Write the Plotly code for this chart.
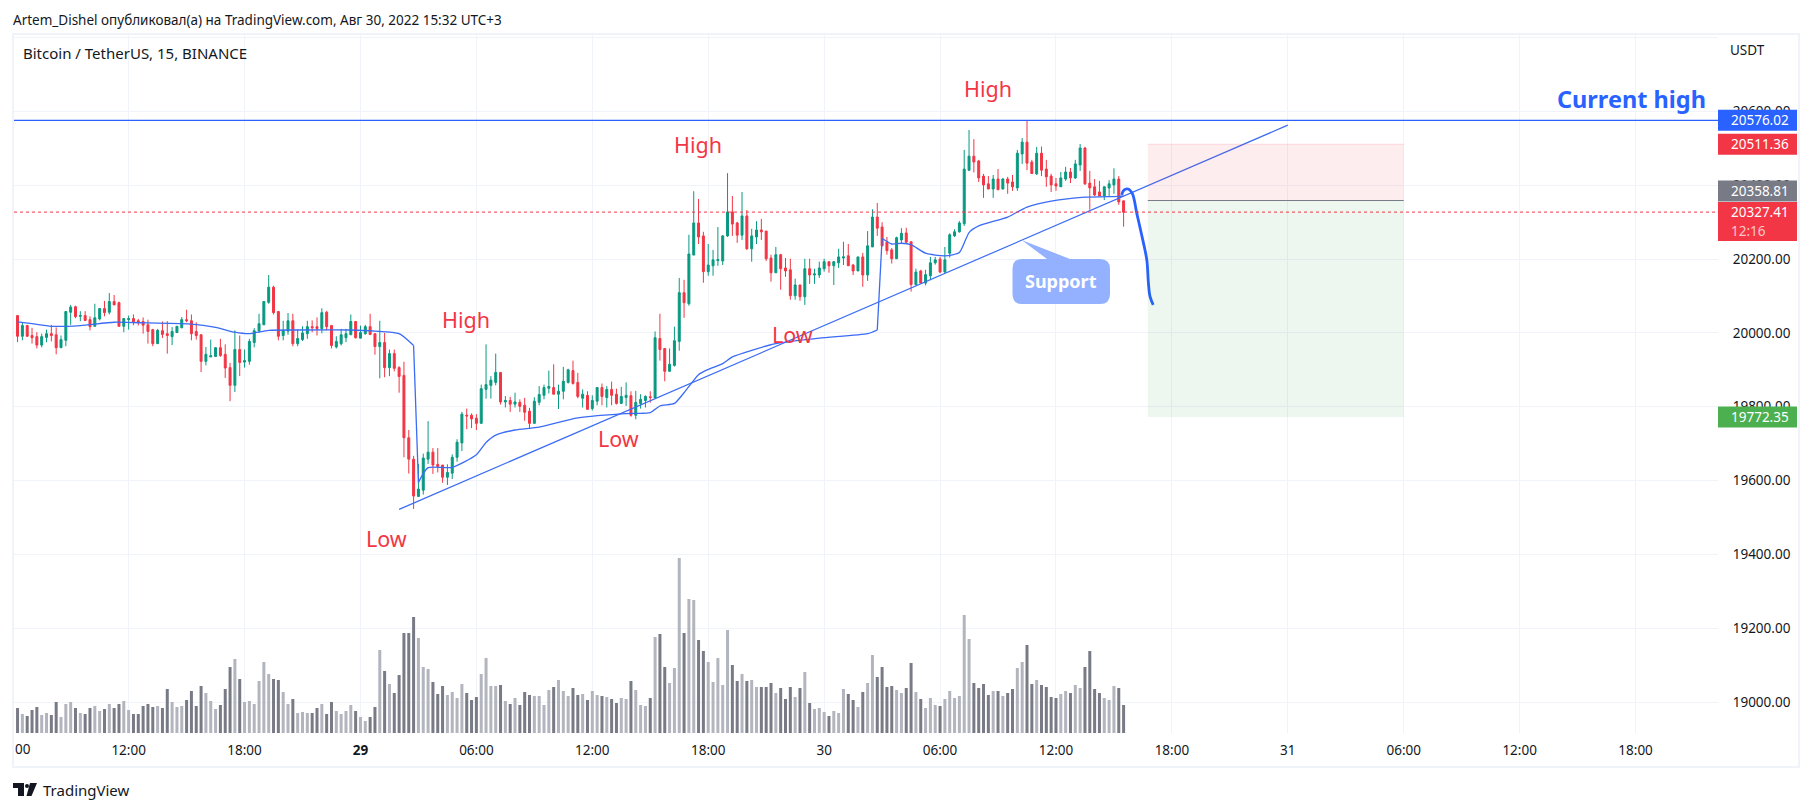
import pandas as pd
import plotly.graph_objects as go

FONT = "Noto Sans"
INK = "#131722"
GRID = "rgb(240,243,250)"
BLUE = "#2962ff"
RED = "#f23645"
GREEN = "#089981"

opens = [
20047,19991,20020,19993,19990,19967,19988,19998,19995,19960,
19980,20056,20071,20045,20047,20036,20018,20038,20066,20056,
20085,20082,20018,20036,20039,20033,20031,20022,20009,19971,
20006,19998,19990,20001,20014,20036,20033,20004,19995,19923,
19935,19936,19960,19942,19906,19858,19955,19921,19923,19974,
20006,20022,20083,20124,20058,19993,20005,20033,19971,19982,
19998,20017,20017,20012,20056,20020,19962,19971,19987,19995,
20031,19986,19998,20017,19998,19963,19974,19906,19944,19906,
19885,19716,19658,19557,19574,19658,19677,19644,19642,19609,
19620,19663,19702,19777,19777,19769,19755,19847,19858,19866,
19893,19813,19817,19807,19812,19804,19788,19755,19812,19831,
19850,19852,19834,19842,19866,19898,19866,19823,19831,19795,
19815,19852,19825,19847,19834,19809,19825,19830,19777,19809,
19817,19827,19824,19985,19958,19896,19912,19977,20109,20079,
20211,20298,20263,20166,20182,20196,20195,20263,20328,20298,
20265,20317,20228,20260,20279,20276,20203,20163,20212,20176,
20171,20101,20130,20098,20174,20157,20157,20174,20193,20182,
20190,20203,20209,20184,20168,20206,20157,20233,20314,20287,
20246,20225,20201,20252,20271,20247,20131,20168,20135,20155,
20190,20200,20165,20216,20263,20274,20296,20441,20479,20466,
20425,20404,20390,20417,20390,20417,20409,20393,20485,20517,
20463,20431,20487,20444,20425,20404,20396,20417,20436,20420,
20455,20501,20406,20396,20382,20371,20393,20401,20417,20358]

highs = [
20047,20027,20022,20014,20002,19998,20009,20022,20015,19993,
20058,20076,20074,20059,20059,20045,20079,20067,20087,20108,
20103,20085,20039,20047,20050,20038,20042,20036,20011,20011,
20031,20032,20016,20018,20043,20063,20050,20029,19997,19962,
19982,19962,19984,19969,19919,20007,19993,19955,19984,20013,
20052,20085,20157,20128,20059,20033,20054,20052,20009,20018,
20033,20034,20042,20067,20060,20020,19991,20011,20011,20050,
20031,20020,20022,20052,19998,20033,20000,19955,19955,19910,
19922,19737,19667,19645,19673,19761,19688,19688,19642,19644,
19671,19712,19786,19795,19782,19780,19860,19969,19883,19944,
19893,19829,19827,19838,19820,19824,19797,19826,19856,19860,
19898,19915,19860,19908,19903,19925,19892,19847,19842,19831,
19852,19863,19856,19868,19849,19854,19866,19842,19843,19834,
19831,19842,20004,20052,19958,19958,20017,20149,20144,20266,
20384,20363,20274,20241,20225,20287,20265,20433,20371,20301,
20382,20333,20282,20303,20309,20276,20212,20233,20214,20203,
20201,20147,20130,20201,20201,20174,20193,20201,20193,20195,
20228,20247,20241,20187,20206,20217,20276,20335,20352,20300,
20260,20230,20261,20284,20285,20247,20174,20171,20171,20206,
20206,20206,20233,20270,20281,20303,20496,20550,20525,20469,
20431,20425,20428,20444,20420,20423,20428,20496,20528,20576,
20469,20504,20505,20469,20431,20420,20436,20450,20447,20469,
20512,20504,20439,20417,20412,20396,20414,20446,20425,20358]

lows = [
19975,19980,19989,19971,19958,19961,19975,19977,19942,19960,
19964,20022,20040,20032,20032,20007,20018,20034,20045,20050,
20076,20018,20002,20009,20021,20020,19998,19971,19964,19971,
19986,19944,19967,20000,20013,20029,19980,19982,19894,19912,
19935,19936,19935,19878,19815,19840,19883,19906,19914,19961,
20000,20022,20079,20050,19980,19980,19995,19964,19964,19978,
19984,20002,19993,19999,20007,19958,19958,19966,19975,19995,
19985,19985,19995,19994,19941,19877,19880,19883,19896,19838,
19663,19619,19523,19557,19562,19645,19618,19622,19594,19588,
19604,19651,19680,19739,19742,19737,19755,19822,19822,19858,
19806,19798,19786,19798,19786,19762,19741,19755,19804,19820,
19836,19834,19794,19820,19863,19860,19823,19798,19793,19790,
19804,19804,19798,19804,19806,19809,19802,19773,19766,19795,
19798,19811,19824,19925,19869,19896,19909,19952,20041,20074,
20211,20241,20136,20155,20155,20182,20184,20260,20263,20244,
20252,20225,20193,20241,20252,20195,20139,20163,20117,20152,
20090,20090,20087,20076,20133,20133,20149,20166,20163,20130,
20176,20184,20182,20157,20168,20125,20141,20233,20263,20236,
20212,20188,20201,20243,20243,20112,20128,20133,20129,20143,
20185,20162,20162,20204,20260,20272,20290,20439,20435,20409,
20366,20390,20366,20388,20389,20377,20385,20385,20458,20441,
20431,20428,20425,20396,20382,20385,20396,20412,20406,20417,
20439,20401,20334,20371,20371,20360,20371,20377,20347,20288]

closes = [
19991,20020,19991,19987,19967,19990,19998,19993,19960,19982,
20058,20070,20044,20047,20034,20017,20041,20066,20055,20085,
20076,20018,20039,20039,20030,20028,20021,20004,19971,20007,
19996,19993,20004,20018,20036,20033,19998,19993,19923,19942,
19938,19960,19939,19905,19858,19955,19920,19925,19977,20006,
20025,20085,20124,20055,19991,20007,20033,19971,19985,20000,
20017,20014,20012,20055,20017,19966,19977,19995,19998,20031,
19987,20001,20017,19996,19963,19974,19906,19944,19904,19882,
19716,19658,19558,19577,19661,19677,19642,19638,19609,19622,
19663,19704,19780,19775,19767,19755,19849,19860,19872,19893,
19813,19817,19807,19813,19801,19785,19755,19815,19833,19852,
19855,19834,19842,19869,19900,19863,19828,19834,19793,19817,
19852,19828,19847,19831,19809,19828,19831,19777,19812,19820,
19828,19825,19987,19955,19896,19915,19979,20109,20082,20214,
20298,20260,20166,20184,20198,20199,20263,20328,20295,20265,
20317,20228,20263,20279,20274,20201,20163,20212,20174,20168,
20101,20130,20098,20174,20157,20160,20176,20193,20182,20193,
20206,20206,20182,20168,20206,20157,20236,20314,20284,20236,
20223,20201,20258,20270,20246,20131,20165,20135,20158,20190,
20198,20165,20198,20266,20274,20298,20444,20479,20463,20420,
20401,20390,20417,20388,20417,20406,20396,20487,20517,20460,
20432,20487,20441,20423,20401,20398,20420,20436,20420,20458,
20501,20404,20393,20374,20371,20396,20404,20417,20355,20327]

volumes = [
75,57,51,69,78,54,60,54,93,48,
87,93,75,60,57,75,81,66,72,87,
75,87,96,69,57,57,81,87,78,81,
75,132,93,78,81,99,126,81,141,120,
96,72,84,132,198,222,162,93,96,87,
156,213,177,162,159,123,87,102,60,63,
60,60,75,87,57,93,66,57,66,84,
66,48,36,48,78,249,186,147,120,174,
300,300,348,285,198,192,153,117,141,114,
123,105,147,120,99,108,177,225,141,141,
144,96,87,105,84,123,114,111,111,84,
129,138,159,126,111,135,114,117,99,126,
114,111,108,102,90,105,102,156,129,84,
81,105,288,297,198,150,195,525,300,402,
399,279,246,213,153,225,144,309,204,156,
177,156,159,138,138,138,150,120,135,102,
138,108,135,183,90,72,75,63,51,66,
60,132,117,99,78,123,150,234,168,198,
138,141,129,120,135,210,123,102,75,105,
84,81,102,126,105,111,354,282,150,135,
147,114,126,126,111,120,132,195,213,264,
147,159,144,138,108,105,117,126,120,144,
135,198,246,132,120,105,99,141,135,84]

assert len(opens) == len(highs) == len(lows) == len(closes) == len(volumes) == 230
times = pd.date_range("2022-08-28 06:15", periods=230, freq="15min")

# the line is split where it jumps, so the smoothing does not overshoot there
vwap_times_a = ["2022-08-28 06:15","2022-08-28 07:00","2022-08-28 08:00","2022-08-28 09:30","2022-08-28 11:15","2022-08-28 13:00","2022-08-28 15:15","2022-08-28 16:30","2022-08-28 17:30","2022-08-28 18:15","2022-08-28 19:15","2022-08-28 20:45","2022-08-28 23:30","2022-08-29 00:45","2022-08-29 02:00","2022-08-29 02:45"]
vwap_values_a = [20030,20025,20018,20020,20029,20027,20024,20015,20002,19998,20007,20008,20008,20005,19998,19966]
vwap_times_b = ["2022-08-29 03:00","2022-08-29 03:30","2022-08-29 04:45","2022-08-29 06:00","2022-08-29 06:30","2022-08-29 07:00","2022-08-29 08:00","2022-08-29 09:15","2022-08-29 11:15","2022-08-29 14:00","2022-08-29 15:00","2022-08-29 15:30","2022-08-29 16:15","2022-08-29 16:45","2022-08-29 17:30","2022-08-29 18:00","2022-08-29 18:45","2022-08-29 19:15","2022-08-29 20:15","2022-08-29 21:30","2022-08-29 23:45","2022-08-30 02:15","2022-08-30 02:45"]
vwap_values_b = [19595,19635,19636,19670,19703,19723,19737,19745,19770,19782,19784,19802,19809,19838,19887,19901,19917,19935,19953,19971,19986,19998,20008]
vwap_times_c = ["2022-08-30 03:00","2022-08-30 03:15","2022-08-30 03:30","2022-08-30 04:00","2022-08-30 04:30","2022-08-30 05:15","2022-08-30 06:15","2022-08-30 07:00","2022-08-30 07:30","2022-08-30 08:00","2022-08-30 09:30","2022-08-30 10:30","2022-08-30 11:45","2022-08-30 13:30","2022-08-30 15:15","2022-08-30 15:30"]
vwap_values_c = [20256,20248,20241,20243,20239,20216,20209,20218,20272,20290,20314,20341,20357,20368,20370,20371]

trend_times = ["2022-08-29 02:00", "2022-08-31 00:00"]
trend_values = [19522, 20563]
forecast_times = ["2022-08-30 15:24","2022-08-30 15:31","2022-08-30 15:44","2022-08-30 15:57","2022-08-30 16:11","2022-08-30 16:26","2022-08-30 16:42","2022-08-30 16:47","2022-08-30 16:52","2022-08-30 17:02"]
forecast_values = [20374,20387,20390,20378,20324,20266,20198,20136,20099,20076]

current_high = 20576.02
stop_price = 20511.36
entry_price = 20358.81
last_price = 20327.41
target_price = 19772.35
tool_start = "2022-08-30 16:45"
tool_end = "2022-08-31 06:00"

price_ticks = [19000,19200,19400,19600,19800,20000,20200,20400,20600,20800]
price_labels = ["19000.00","19200.00","19400.00","19600.00","19800.00","20000.00","20200.00","20400.00","20600.00",""]
time_ticks = ["2022-08-28 12:00","2022-08-28 18:00","2022-08-29 00:00","2022-08-29 06:00","2022-08-29 12:00","2022-08-29 18:00","2022-08-30 00:00","2022-08-30 06:00","2022-08-30 12:00","2022-08-30 18:00","2022-08-31 00:00","2022-08-31 06:00","2022-08-31 12:00","2022-08-31 18:00"]
time_labels = ["12:00","18:00","<b>29</b>","06:00","12:00","18:00","30","06:00","12:00","18:00","31","06:00","12:00","18:00"]

# page geometry
W, H = 1813, 812
PL, PR, PT, PB = 14, 1718, 34, 733
def px(x): return (x - PL) / (PR - PL)
def py(y): return (PB - y) / (PB - PT)

fig = go.Figure()
fig.add_trace(go.Candlestick(
    x=times, open=opens, high=highs, low=lows, close=closes,
    increasing=dict(line=dict(color=GREEN, width=1), fillcolor=GREEN),
    decreasing=dict(line=dict(color=RED, width=1), fillcolor=RED),
    whiskerwidth=0, showlegend=False, hoverinfo="skip"))
vol_colors = ["#787b86" if c < o else "#b2b5be" for o, c in zip(opens, closes)]
fig.add_trace(go.Bar(x=times, y=volumes, yaxis="y2", width=560000,
                     marker=dict(color=vol_colors, line_width=0), showlegend=False, hoverinfo="skip"))
for seg_x, seg_y in [(vwap_times_a, vwap_values_a), (vwap_times_b, vwap_values_b), (vwap_times_c, vwap_values_c)]:
    fig.add_trace(go.Scatter(x=seg_x, y=seg_y, mode="lines",
                             line=dict(color="#3a6cf5", width=1.3, shape="spline", smoothing=0.6),
                             showlegend=False, hoverinfo="skip"))
for a, b in [((vwap_times_a[-1], vwap_values_a[-1]), (vwap_times_b[0], vwap_values_b[0])),
             ((vwap_times_b[-1], vwap_values_b[-1]), (vwap_times_c[0], vwap_values_c[0]))]:
    fig.add_trace(go.Scatter(x=[a[0], b[0]], y=[a[1], b[1]], mode="lines",
                             line=dict(color="#3a6cf5", width=1.3), showlegend=False, hoverinfo="skip"))
fig.add_trace(go.Scatter(x=trend_times, y=trend_values, mode="lines", line=dict(color="#3a6cf5", width=1.2),
                         showlegend=False, hoverinfo="skip"))
fig.add_trace(go.Scatter(x=forecast_times, y=forecast_values, mode="lines",
                         line=dict(color=BLUE, width=2.8, shape="spline"), showlegend=False, hoverinfo="skip"))

shapes = []
# frame
shapes.append(dict(type="rect", xref="paper", yref="paper", x0=px(13), x1=px(1799), y0=py(767), y1=py(34),
                   line=dict(color=GRID, width=2), layer="below"))
# long-position tool
shapes.append(dict(type="rect", x0=tool_start, x1=tool_end, y0=entry_price, y1=stop_price, xref="x", yref="y",
                   fillcolor="rgba(242,54,69,0.09)", line=dict(width=0), layer="above"))
shapes.append(dict(type="line", x0=tool_start, x1=tool_end, y0=stop_price, y1=stop_price, xref="x", yref="y",
                   line=dict(color="rgba(242,54,69,0.15)", width=1)))
shapes.append(dict(type="rect", x0=tool_start, x1=tool_end, y0=target_price, y1=entry_price, xref="x", yref="y",
                   fillcolor="rgba(8,130,40,0.075)", line=dict(width=0), layer="above"))
shapes.append(dict(type="line", x0=tool_start, x1=tool_end, y0=entry_price, y1=entry_price, xref="x", yref="y",
                   line=dict(color="#787b86", width=1)))
# price lines
shapes.append(dict(type="line", xref="paper", yref="y", x0=0, x1=1, y0=current_high, y1=current_high,
                   line=dict(color=BLUE, width=1.2)))
shapes.append(dict(type="line", xref="paper", yref="y", x0=0, x1=1, y0=last_price, y1=last_price,
                   line=dict(color=RED, width=1, dash="dot")))

annotations = []
def label(text, x, y, size, color=INK, anchor="center", bold=False):
    annotations.append(dict(text=f"<b>{text}</b>" if bold else text, xref="paper", yref="paper",
                            x=px(x), y=py(y), xanchor=anchor, yanchor="middle", showarrow=False,
                            font=dict(family=FONT, size=size, color=color)))

def price_tag(price, color, up=10.5, down=10.5, shift=0):
    shapes.append(dict(type="rect", xref="paper", yref="y", ysizemode="pixel", yanchor=price,
                       x0=px(1718), x1=px(1797), y0=-down + shift, y1=up + shift,
                       fillcolor=color, line=dict(width=0), layer="above"))
    annotations.append(dict(text=f"{price:.2f}", xref="paper", yref="y", x=px(1729), y=price, yshift=shift,
                            xanchor="left", yanchor="middle", showarrow=False,
                            font=dict(family=FONT, size=13.5, color="white")))

price_tag(current_high, BLUE)
price_tag(stop_price, RED)
price_tag(entry_price, "#787b86", shift=9.5)
price_tag(last_price, RED, up=10, down=29)
price_tag(target_price, "#4caf50")
label("12:16", 1729, 231, 13.5, "#fcc6ca", anchor="left")

label("Artem_Dishel опубликовал(а) на TradingView.com, Авг 30, 2022 15:32 UTC+3", 11, 20, 13.5, anchor="left")
label("Bitcoin / TetherUS, 15, BINANCE", 21, 53, 15, anchor="left")
label("USDT", 1747, 50, 13.5)
label("00", 13, 749, 13.5, anchor="left")
for text, x, y in [("High", 466, 319), ("High", 697.6, 144), ("High", 987.5, 88),
                   ("Low", 386, 538), ("Low", 618, 439), ("Low", 792, 334)]:
    label(text, x, y, 21.5, RED)
label("Current high", 1631, 99, 23.5, BLUE, bold=True)
label("TradingView", 41, 790, 15, anchor="left")
label("Support", 1061, 281, 18, "white", bold=True)

# callout body with its tail, drawn from page positions
pts = ("M {a},{t} L {b1},{t} L {tipx},{tipy} L {b2},{t} L {c},{t} Q {r},{t} {r},{t2} L {r},{b2y} Q {r},{bot} {c},{bot} "
       "L {a},{bot} Q {l},{bot} {l},{b2y} L {l},{t2} Q {l},{t} {a},{t} Z").format(
    a=px(1022), c=px(1100), l=px(1012.5), r=px(1110), t=py(259), bot=py(304), t2=py(269), b2y=py(294),
    b1=px(1047), b2=px(1070), tipx=px(1021.5), tipy=py(240))
shapes.append(dict(type="path", xref="paper", yref="paper", path=pts, fillcolor="#93b1ff", line=dict(width=0), layer="above"))

# TradingView mark
logo = ("M {a},{t} L {b},{t} L {b},{bot} L {c},{bot} L {c},{m} L {a},{m} Z "
        "M {d},{t} L {e},{t} L {f},{bot} L {g},{bot} Z").format(
    a=px(13), b=px(24), c=px(18), t=py(783), bot=py(796), m=py(788),
    d=px(30), e=px(37), f=px(31.5), g=px(26.5))
shapes.append(dict(type="path", xref="paper", yref="paper", path=logo, fillcolor=INK, line=dict(width=0)))
shapes.append(dict(type="circle", xref="paper", yref="paper", x0=px(25), x1=px(29), y0=py(788), y1=py(784),
                   fillcolor=INK, line=dict(width=0)))

fig.update_layout(
    width=W, height=H, margin=dict(l=PL, r=W - PR, t=PT, b=H - PB, pad=0, autoexpand=False),
    paper_bgcolor="white", plot_bgcolor="white", showlegend=False, boxgap=0.42,
    shapes=shapes, annotations=annotations, dragmode=False,
    xaxis=dict(type="date", range=["2022-08-28 06:04", "2022-08-31 22:16"], rangeslider=dict(visible=False),
               tickmode="array", tickvals=time_ticks, ticktext=time_labels, showgrid=True, gridcolor=GRID, gridwidth=1,
               ticks="outside", ticklen=5, tickcolor="rgba(0,0,0,0)", showline=False, zeroline=False,
               tickfont=dict(family=FONT, size=13.5, color=INK)),
    yaxis=dict(side="right", range=[18916, 20810], tickmode="array", tickvals=price_ticks, ticktext=price_labels,
               showgrid=True, gridcolor=GRID, gridwidth=1, zeroline=False, showline=False,
               ticks="outside", ticklen=11, tickcolor="rgba(0,0,0,0)",
               tickfont=dict(family=FONT, size=13.5, color=INK)),
    yaxis2=dict(overlaying="y", range=[0, 2097], visible=False, fixedrange=True),
)
fig.write_html("out.html", config=dict(displayModeBar=False),
               post_script="document.body.style.margin='0';")
